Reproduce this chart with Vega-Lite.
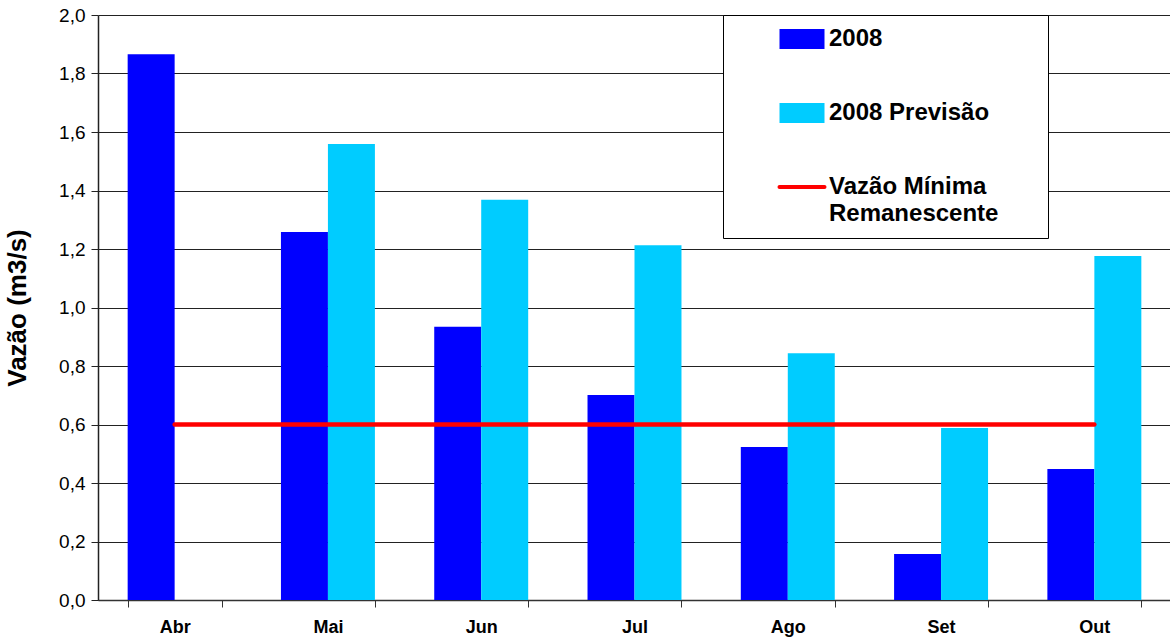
{
  "$schema": "https://vega.github.io/schema/vega-lite/v6.json",
  "width": 1073,
  "height": 585,
  "autosize": "none",
  "padding": {"left": 98, "top": 15, "right": 0, "bottom": 39},
  "background": "white",
  "datasets": {
    "barras": [
      {"mes": "Abr", "serie": "2008", "vazao": 1.866},
      {"mes": "Mai", "serie": "2008", "vazao": 1.258},
      {"mes": "Mai", "serie": "2008 Previsão", "vazao": 1.559},
      {"mes": "Jun", "serie": "2008", "vazao": 0.934},
      {"mes": "Jun", "serie": "2008 Previsão", "vazao": 1.368},
      {"mes": "Jul", "serie": "2008", "vazao": 0.701},
      {"mes": "Jul", "serie": "2008 Previsão", "vazao": 1.213},
      {"mes": "Ago", "serie": "2008", "vazao": 0.523},
      {"mes": "Ago", "serie": "2008 Previsão", "vazao": 0.844},
      {"mes": "Set", "serie": "2008", "vazao": 0.157},
      {"mes": "Set", "serie": "2008 Previsão", "vazao": 0.588},
      {"mes": "Out", "serie": "2008", "vazao": 0.448},
      {"mes": "Out", "serie": "2008 Previsão", "vazao": 1.176}
    ],
    "minima": [
      {"mes": "Abr", "vazao": 0.6},
      {"mes": "Mai", "vazao": 0.6},
      {"mes": "Jun", "vazao": 0.6},
      {"mes": "Jul", "vazao": 0.6},
      {"mes": "Ago", "vazao": 0.6},
      {"mes": "Set", "vazao": 0.6},
      {"mes": "Out", "vazao": 0.6}
    ]
  },
  "encoding": {
    "x": {
      "field": "mes",
      "type": "nominal",
      "sort": ["Abr", "Mai", "Jun", "Jul", "Ago", "Set", "Out"],
      "scale": {"domain": ["Abr", "Mai", "Jun", "Jul", "Ago", "Set", "Out"], "paddingInner": 0.387, "paddingOuter": 0.1935},
      "axis": {
        "title": null,
        "labelAngle": 0,
        "labelFont": "Liberation Sans",
        "labelFontSize": 18,
        "labelFontWeight": "bold",
        "labelColor": "black",
        "labelPadding": 11,
        "tickBand": "extent",
        "tickSize": 7,
        "tickColor": "#333333",
        "domainColor": "#333333",
        "domainWidth": 1.5,
        "grid": false
      }
    },
    "y": {
      "field": "vazao",
      "type": "quantitative",
      "scale": {"domain": [0, 2], "nice": false, "zero": true},
      "axis": {
        "title": "Vazão (m3/s)",
        "titleFont": "Liberation Sans",
        "titleFontSize": 26,
        "titleFontWeight": "bold",
        "titleColor": "black",
        "titlePadding": 28,
        "values": [0, 0.2, 0.4, 0.6, 0.8, 1.0, 1.2, 1.4, 1.6, 1.8, 2.0],
        "labelExpr": "replace(format(datum.value, '.1f'), '.', ',')",
        "labelFont": "Liberation Sans",
        "labelFontSize": 19,
        "labelColor": "black",
        "labelPadding": 6,
        "tickSize": 7,
        "tickColor": "#222222",
        "domainColor": "#222222",
        "domainWidth": 1.5,
        "grid": true,
        "gridColor": "#222222",
        "gridWidth": 1
      }
    }
  },
  "layer": [
    {
      "data": {"name": "barras"},
      "mark": {"type": "bar", "cornerRadius": 0},
      "encoding": {
        "xOffset": {
          "field": "serie",
          "type": "nominal",
          "scale": {"domain": ["2008", "2008 Previsão"], "paddingInner": 0, "paddingOuter": 0}
        },
        "color": {
          "field": "serie",
          "type": "nominal",
          "scale": {
            "domain": ["2008", "2008 Previsão", "Vazão Mínima Remanescente"],
            "range": ["#0000FF", "#00CCFF", "#FF0000"]
          },
          "legend": {
            "orient": "none",
            "legendX": 625,
            "legendY": 0,
            "title": null,
            "fillColor": "white",
            "strokeColor": "black",
            "padding": 12,
            "symbolSize": 400,
            "symbolOffset": 55,
            "labelOffset": 15,
            "rowPadding": 50,
            "labelFont": "Liberation Sans",
            "labelFontSize": 24,
            "labelFontWeight": "bold",
            "labelColor": "black",
            "labelLimit": 400,
            "labelExpr": "datum.label == 'Vazão Mínima Remanescente' ? ['Vazão Mínima', 'Remanescente'] : datum.label == '2008 Previsão' ? '2008 Previsão\u00a0\u00a0\u00a0\u00a0\u00a0\u00a0\u00a0\u200b' : datum.label",
            "encode": {
              "symbols": {
                "update": {
                  "shape": {"signal": "datum.value == 'Vazão Mínima Remanescente' ? 'M-2.25,0H2.25' : 'M-2.25,-1H2.25V1H-2.25Z'"},
                  "fill": {"signal": "datum.value == '2008' ? '#0000FF' : datum.value == '2008 Previsão' ? '#00CCFF' : 'transparent'"},
                  "stroke": {"signal": "datum.value == 'Vazão Mínima Remanescente' ? '#FF0000' : 'transparent'"},
                  "strokeWidth": {"signal": "datum.value == 'Vazão Mínima Remanescente' ? 4 : 0"},
                  "strokeCap": {"value": "round"},
                  "opacity": {"value": 1}
                }
              },
              "labels": {
                "update": {
                  "lineHeight": {"value": 27}
                }
              }
            }
          }
        }
      }
    },
    {
      "data": {"name": "minima"},
      "mark": {"type": "line", "strokeWidth": 4.5, "strokeCap": "round"},
      "encoding": {
        "color": {"datum": "Vazão Mínima Remanescente"}
      }
    }
  ],
  "config": {
    "view": {"stroke": null},
    "font": "Liberation Sans"
  }
}
